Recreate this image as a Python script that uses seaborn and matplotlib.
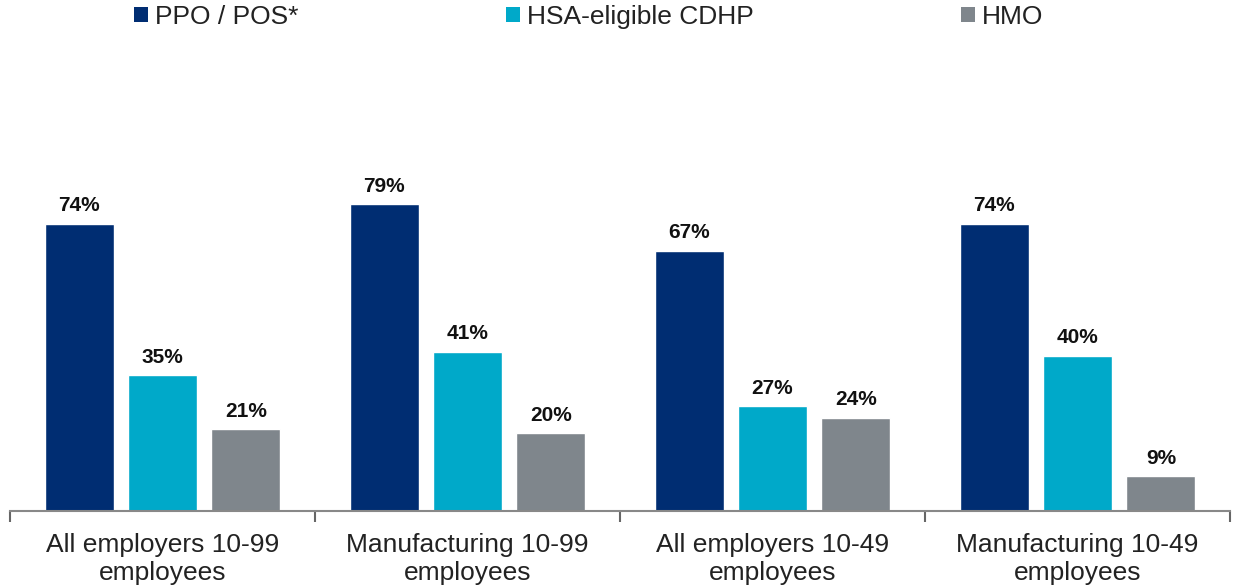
import matplotlib
matplotlib.use("Agg")
import matplotlib.pyplot as plt
import seaborn as sns
import pandas as pd
from matplotlib.ticker import FixedLocator
from matplotlib.patches import Patch

categories = ["All employers 10-99\nemployees", "Manufacturing 10-99\nemployees",
              "All employers 10-49\nemployees", "Manufacturing 10-49\nemployees"]
series = ["PPO / POS*", "HSA-eligible CDHP", "HMO"]
ppo = [74, 79, 67, 74]
cdhp = [35, 41, 27, 40]
hmo = [21, 20, 24, 9]
colors = ["#002D72", "#00A9C9", "#7F868C"]

rows = []
for s, vals in zip(series, [ppo, cdhp, hmo]):
    for c, v in zip(categories, vals):
        rows.append({"cat": c, "series": s, "value": v})
df = pd.DataFrame(rows)

sns.set_theme(style="white")
plt.rcParams['font.family'] = ['Liberation Sans', 'DejaVu Sans']

fig = plt.figure(figsize=(12.34, 5.88), dpi=100)
ax = fig.add_axes([10/1234, 77/588, 1220/1234, 388.5/588])
sns.barplot(data=df, x="cat", y="value", hue="series", order=categories,
            hue_order=series, palette=colors, width=0.82, gap=0.17,
            saturation=1, ax=ax, legend=False, errorbar=None)

for cont in ax.containers:
    ax.bar_label(cont, fmt="%.0f%%", padding=6, fontsize=15, fontweight="bold",
                 color="#111111")

ax.set_ylim(0, 100)
ax.set_xlim(-0.5, 3.5)
ax.set_xlabel("")
ax.set_ylabel("")
ax.set_yticks([])
for side in ["top", "right", "left"]:
    ax.spines[side].set_visible(False)
ax.spines["bottom"].set_color("#888888")
ax.spines["bottom"].set_linewidth(1.5)
ax.tick_params(axis="x", which="major", length=0, pad=16, labelsize=19,
               labelcolor="#222222")
ax.xaxis.set_minor_locator(FixedLocator([-0.5, 0.5, 1.5, 2.5, 3.5]))
ax.tick_params(axis="x", which="minor", bottom=True, length=8, width=1.5,
               color="#666666", direction="out")
for lbl in ax.get_xticklabels():
    lbl.set_linespacing(1.2)

handles = [Patch(facecolor=c, edgecolor="none") for c in colors]
fig.legend(handles, series, loc="upper left", bbox_to_anchor=(134/1234, 1 - 5/588),
           ncol=3, frameon=False, fontsize=19, handlelength=0.53,
           handleheight=0.53, handletextpad=0.27, columnspacing=7.85,
           labelcolor="#222222", borderaxespad=0, borderpad=0)

fig.savefig("out.png", dpi=100, facecolor="white")
